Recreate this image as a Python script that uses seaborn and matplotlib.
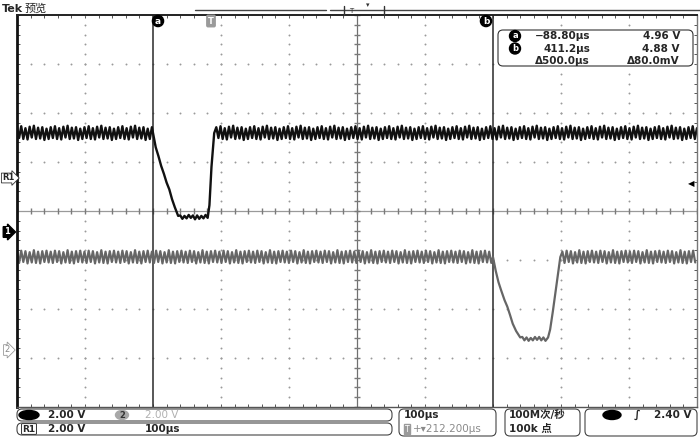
import numpy as np
import pandas as pd
import matplotlib
matplotlib.use("Agg")
import matplotlib.pyplot as plt
from matplotlib.patches import FancyBboxPatch, Ellipse
import seaborn as sns

# --- data, in screen divisions (x: 0..10 div at 100us/div, y: -4..4 div) ---
ripple_step = 0.031  # half a ripple cycle, in divisions

# channel 1 (black): high level, falling ramp, floor, rising edge
ch1_high = 1.59
ch1_low = -0.12
ch1_fall_x = [2.00, 2.04, 2.08, 2.12, 2.16, 2.20, 2.24, 2.28, 2.32, 2.37]
ch1_fall_y = [1.59, 1.30, 1.12, 0.92, 0.76, 0.58, 0.44, 0.24, 0.08, -0.10]
ch1_rise_x = [2.81, 2.83, 2.86, 2.90]
ch1_rise_y = [-0.08, 0.12, 0.90, 1.59]
ch1_ripple = [0.12, -0.10, 0.14, -0.12, 0.10, -0.13, 0.13, -0.09,
              0.15, -0.12, 0.11, -0.11, 0.12, -0.14, 0.09, -0.12]
ch1_floor_noise = [0.03, -0.04, 0.02, -0.03, 0.04, -0.02, 0.03, -0.05]

# channel 2 (gray)
ch2_high = -0.94
ch2_low = -2.61
ch2_fall_x = [7.00, 7.04, 7.08, 7.12, 7.17, 7.21, 7.25, 7.29, 7.34, 7.40]
ch2_fall_y = [-0.94, -1.22, -1.45, -1.62, -1.82, -1.95, -2.12, -2.30, -2.45, -2.58]
ch2_rise_x = [7.81, 7.84, 7.88, 7.93, 7.99]
ch2_rise_y = [-2.58, -2.42, -2.05, -1.55, -0.94]
ch2_ripple = [0.11, -0.12, 0.13, -0.10, 0.12, -0.13, 0.10, -0.11,
              0.14, -0.12, 0.11, -0.13, 0.12, -0.10, 0.13, -0.11]
ch2_floor_noise = [0.04, -0.03, 0.03, -0.04, 0.02, -0.03, 0.04, -0.02]

readout_rows = [("a", "\u221288.80\u00b5s", "4.96 V"),
                ("b", "411.2\u00b5s", "4.88 V"),
                ("", "\u0394500.0\u00b5s", "\u039480.0mV")]


def flat(x0, x1, level, pattern):
    t = np.arange(x0, x1, ripple_step)
    return t, level + np.resize(np.array(pattern), len(t))


def build(high, low, fx, fy, rx, ry, ripple, floor):
    a_t, a_v = flat(0, fx[0], high, ripple)
    b_t, b_v = flat(fx[-1] + ripple_step, rx[0], low, floor)
    c_t, c_v = flat(rx[-1] + ripple_step, 10.0, high, ripple)
    t = np.concatenate([a_t, fx, b_t, rx, c_t])
    v = np.concatenate([a_v, fy, b_v, ry, c_v])
    return pd.DataFrame({"t": t, "v": v})


sns.set_theme(style="white")
plt.rcParams["font.family"] = ["DejaVu Sans", "Noto Sans CJK SC"]

fig = plt.figure(figsize=(7, 4.37), dpi=100)
fig.patch.set_facecolor("white")
ax = fig.add_axes([17 / 700, 30 / 437, 680 / 700, 392 / 437])
ax.set_xlim(0, 10)
ax.set_ylim(-4, 4)

# graticule
fine_x = np.arange(0, 10.001, 0.2)
fine_y = np.arange(-4, 4.001, 0.2)
for gx in [1, 3, 4, 6, 8, 9]:
    ax.plot(np.full_like(fine_y, gx), fine_y, ls="", marker="o", ms=1.4,
            mew=0, color="#9a9a9a")
for gy in [-3, -2, -1, 1, 2, 3]:
    ax.plot(fine_x, np.full_like(fine_x, gy), ls="", marker="o", ms=1.4,
            mew=0, color="#9a9a9a")
ax.axhline(0, color="#9a9a9a", lw=0.9)
ax.axvline(5, color="#707070", lw=0.9)
ax.plot(fine_x, np.zeros_like(fine_x), ls="", marker="|", ms=4, color="#7a7a7a")
ax.plot(np.full_like(fine_y, 5), fine_y, ls="", marker="_", ms=4, color="#7a7a7a")
# cursors a and b
ax.axvline(2, color="#2a2a2a", lw=1.1)
ax.axvline(7, color="#2a2a2a", lw=1.1)

ax.set_xticks(fine_x)
ax.set_yticks(fine_y)
ax.tick_params(direction="in", length=2.5, width=0.7, colors="#555555",
               top=True, right=True, bottom=True, left=True,
               labelbottom=False, labelleft=False)
for side, c, w in [("left", "#111111", 2.0), ("top", "#222222", 1.4),
                   ("right", "#777777", 1.0), ("bottom", "#555555", 1.0)]:
    ax.spines[side].set_color(c)
    ax.spines[side].set_linewidth(w)

ch1 = build(ch1_high, ch1_low, ch1_fall_x, ch1_fall_y, ch1_rise_x, ch1_rise_y,
            ch1_ripple, ch1_floor_noise)
ch2 = build(ch2_high, ch2_low, ch2_fall_x, ch2_fall_y, ch2_rise_x, ch2_rise_y,
            ch2_ripple, ch2_floor_noise)
sns.lineplot(data=ch2, x="t", y="v", ax=ax, color="#666666", lw=1.6,
             estimator=None, sort=False)
sns.lineplot(data=ch1, x="t", y="v", ax=ax, color="#111111", lw=1.7,
             estimator=None, sort=False)
ax.set_xlabel("")
ax.set_ylabel("")

# overlay in pixel coordinates for the scope decorations
ov = fig.add_axes([0, 0, 1, 1], zorder=5)
ov.set_xlim(0, 700)
ov.set_ylim(437, 0)
ov.axis("off")
ov.patch.set_alpha(0)

fs = 7.5
ov.text(2, 9, "Tek", fontsize=8, fontweight="bold", va="center")
ov.text(25, 9, "预览", fontsize=8, va="center", family=["Noto Sans CJK SC"])

# record view bar
ov.plot([195, 326], [10, 10], color="#444444", lw=1)
ov.plot([330, 700], [10, 10], color="#444444", lw=1)
ov.plot([344, 344], [6, 15], color="#333333", lw=1)
ov.plot([384, 384], [6, 15], color="#333333", lw=1)
ov.text(351, 11, "T", fontsize=5, color="#333333", ha="center", va="center")
ov.text(368, 5, "\u25be", fontsize=5, color="#333333", ha="center", va="center")

# cursor / trigger labels
circ = dict(boxstyle="circle,pad=0.12", fc="black", ec="black")
ov.text(158, 21, "a", fontsize=6.5, fontweight="bold", color="white",
        ha="center", va="center", bbox=circ)
ov.text(486, 21, "b", fontsize=6.5, fontweight="bold", color="white",
        ha="center", va="center", bbox=circ)
ov.text(211, 21, "T", fontsize=6, fontweight="bold", color="white",
        ha="center", va="center",
        bbox=dict(boxstyle="round,pad=0.15", fc="#9a9a9a", ec="#9a9a9a"))

# channel markers on the left, trigger level on the right
ov.text(8, 178, "R1", fontsize=6, fontweight="bold", ha="center", va="center",
        bbox=dict(boxstyle="rarrow,pad=0.05", fc="white", ec="#333333", lw=0.6))
ov.text(7, 232, "1", fontsize=6, fontweight="bold", color="white",
        ha="center", va="center",
        bbox=dict(boxstyle="rarrow,pad=0.1", fc="black", ec="black"))
ov.text(7, 350, "2", fontsize=6, color="#888888", ha="center", va="center",
        bbox=dict(boxstyle="rarrow,pad=0.1", fc="white", ec="#999999", lw=0.6))
ov.text(691, 184, "\u25c0", fontsize=6, color="black", ha="center", va="center")

# cursor readout box
ov.add_patch(FancyBboxPatch((498, 30), 195, 36,
                            boxstyle="round,pad=0,rounding_size=5",
                            fc="white", ec="#333333", lw=0.8))
for i, (tag, tval, vval) in enumerate(readout_rows):
    y = 36 + i * 12.5
    if tag:
        ov.text(515, y, tag, fontsize=6, fontweight="bold", color="white",
                ha="center", va="center", bbox=circ)
    ov.text(590, y, tval, fontsize=fs, fontweight="bold", ha="right", va="center")
    ov.text(680, y, vval, fontsize=fs, fontweight="bold", ha="right", va="center")

# status bar
box = dict(boxstyle="round,pad=0,rounding_size=5", fc="white", ec="#444444", lw=0.8)
ov.add_patch(FancyBboxPatch((17, 409), 375, 12, **box))
ov.add_patch(FancyBboxPatch((17, 423), 375, 12, **box))
ov.add_patch(FancyBboxPatch((399, 409), 97, 27, **box))
ov.add_patch(FancyBboxPatch((505, 409), 75, 27, **box))
ov.add_patch(FancyBboxPatch((585, 409), 112, 27, **box))

ov.add_patch(Ellipse((29, 415), 20, 9, fc="black", ec="black"))
ov.text(48, 415, "2.00 V", fontsize=fs, fontweight="bold", va="center")
ov.add_patch(Ellipse((122, 415), 13, 9, fc="#a8a8a8", ec="#a8a8a8"))
ov.text(122, 415, "2", fontsize=6, fontweight="bold", color="#333333",
        ha="center", va="center")
ov.text(145, 415, "2.00 V", fontsize=fs, color="#b0b0b0", va="center")

ov.text(29, 429, "R1", fontsize=6.5, fontweight="bold", ha="center", va="center",
        bbox=dict(boxstyle="round,pad=0.1", fc="white", ec="#333333", lw=0.7))
ov.text(48, 429, "2.00 V", fontsize=fs, fontweight="bold", va="center")
ov.text(145, 429, "100\u00b5s", fontsize=fs, fontweight="bold", va="center")

ov.text(404, 415, "100\u00b5s", fontsize=fs, fontweight="bold", va="center")
ov.text(407, 429, "T", fontsize=5.5, color="white", ha="center", va="center",
        bbox=dict(boxstyle="square,pad=0.1", fc="#9a9a9a", ec="#9a9a9a"))
ov.text(413, 429, "+\u25be212.200\u00b5s", fontsize=fs, color="#8a8a8a",
        va="center")

ov.text(509, 415, "100M次/秒", fontsize=fs, fontweight="bold", va="center")
ov.text(509, 429, "100k 点", fontsize=fs, fontweight="bold", va="center")

ov.add_patch(Ellipse((612, 415), 18, 9, fc="black", ec="black"))
ov.text(634, 415, "\u222b", fontsize=8, fontweight="bold", va="center")
ov.text(692, 415, "2.40 V", fontsize=fs, fontweight="bold", ha="right",
        va="center")

fig.savefig("out.png", dpi=100, facecolor="white")
